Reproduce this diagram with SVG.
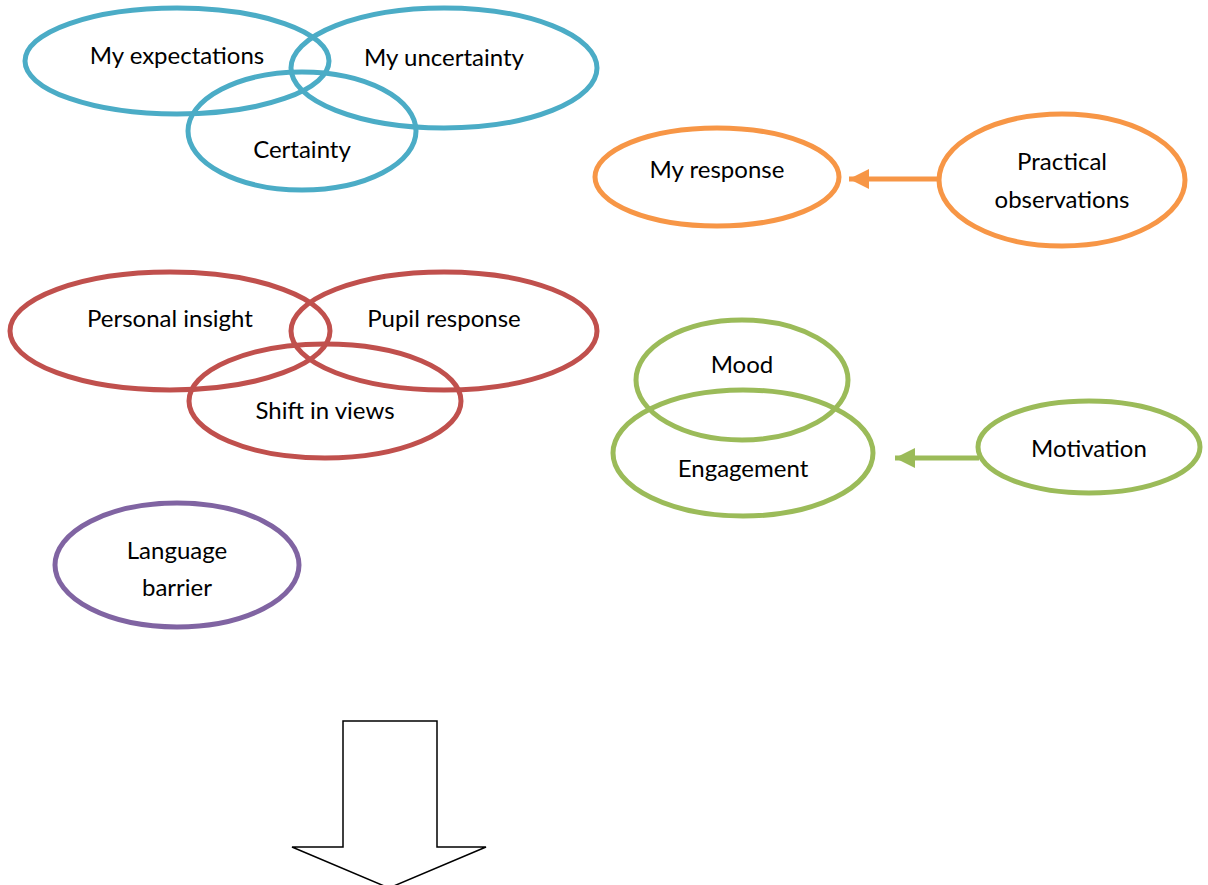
<svg xmlns="http://www.w3.org/2000/svg" width="1208" height="885" viewBox="0 0 1208 885">
  <style>
    .node { fill: none; stroke-width: 5; }
    .blue { stroke: #4BACC6; }
    .orange { stroke: #F79646; }
    .red { stroke: #C0504D; }
    .green { stroke: #9BBB59; }
    .purple { stroke: #8064A2; }
    text { font-family: Lato, "Open Sans", "Liberation Sans", sans-serif; font-size: 24px; fill: #000; text-anchor: middle; }
    .link { fill: none; stroke-width: 5; }
  </style>
  <defs>
    <marker id="headOrange" viewBox="0 0 10 10" refX="10" refY="5" markerWidth="4" markerHeight="4" orient="auto" markerUnits="strokeWidth">
      <path d="M0,0 L10,5 L0,10 Z" fill="#F79646"/>
    </marker>
    <marker id="headGreen" viewBox="0 0 10 10" refX="10" refY="5" markerWidth="4" markerHeight="4" orient="auto" markerUnits="strokeWidth">
      <path d="M0,0 L10,5 L0,10 Z" fill="#9BBB59"/>
    </marker>
  </defs>
  <rect width="1208" height="885" fill="#fff"/>

  <!-- connectors -->
  <g id="connectors">
    <line class="link orange" x1="938" y1="179" x2="849" y2="179" marker-end="url(#headOrange)"/>
    <line class="link green" x1="979" y1="458" x2="895" y2="458" marker-end="url(#headGreen)"/>
  </g>

  <!-- blue cluster -->
  <g id="my-expectations">
    <ellipse class="node blue" cx="177" cy="61" rx="152" ry="53"/>
    <text x="177" y="64">My expectations</text>
  </g>
  <g id="my-uncertainty">
    <ellipse class="node blue" cx="444" cy="68" rx="153" ry="60"/>
    <text x="444" y="66">My uncertainty</text>
  </g>
  <g id="certainty">
    <ellipse class="node blue" cx="302" cy="131" rx="114" ry="59"/>
    <text x="302" y="158">Certainty</text>
  </g>

  <!-- orange pair -->
  <g id="my-response">
    <ellipse class="node orange" cx="717" cy="177" rx="122" ry="49"/>
    <text x="717" y="178">My response</text>
  </g>
  <g id="practical-observations">
    <ellipse class="node orange" cx="1062" cy="180" rx="123" ry="66"/>
    <text x="1062" y="170">Practical</text>
    <text x="1062" y="208">observations</text>
  </g>

  <!-- red cluster -->
  <g id="personal-insight">
    <ellipse class="node red" cx="170" cy="331" rx="160" ry="59"/>
    <text x="170" y="327">Personal insight</text>
  </g>
  <g id="pupil-response">
    <ellipse class="node red" cx="444" cy="331" rx="153" ry="59"/>
    <text x="444" y="327">Pupil response</text>
  </g>
  <g id="shift-in-views">
    <ellipse class="node red" cx="325" cy="401" rx="136" ry="57"/>
    <text x="325" y="419">Shift in views</text>
  </g>

  <!-- green cluster -->
  <g id="mood">
    <ellipse class="node green" cx="742" cy="380" rx="106" ry="60"/>
    <text x="742" y="373">Mood</text>
  </g>
  <g id="engagement">
    <ellipse class="node green" cx="743" cy="453" rx="130" ry="63"/>
    <text x="743" y="477">Engagement</text>
  </g>
  <g id="motivation">
    <ellipse class="node green" cx="1089" cy="447" rx="111" ry="46"/>
    <text x="1089" y="457">Motivation</text>
  </g>

  <!-- purple -->
  <g id="language-barrier">
    <ellipse class="node purple" cx="177" cy="565" rx="122" ry="62"/>
    <text x="177" y="559">Language</text>
    <text x="177" y="596">barrier</text>
  </g>

  <!-- block arrow pointing down -->
  <g id="down-arrow">
    <path d="M343,721 L437,721 L437,847 L486,847 L389,888 L292,847 L343,847 Z" fill="#fff" stroke="#000" stroke-width="1.5" stroke-linejoin="miter"/>
  </g>
</svg>
